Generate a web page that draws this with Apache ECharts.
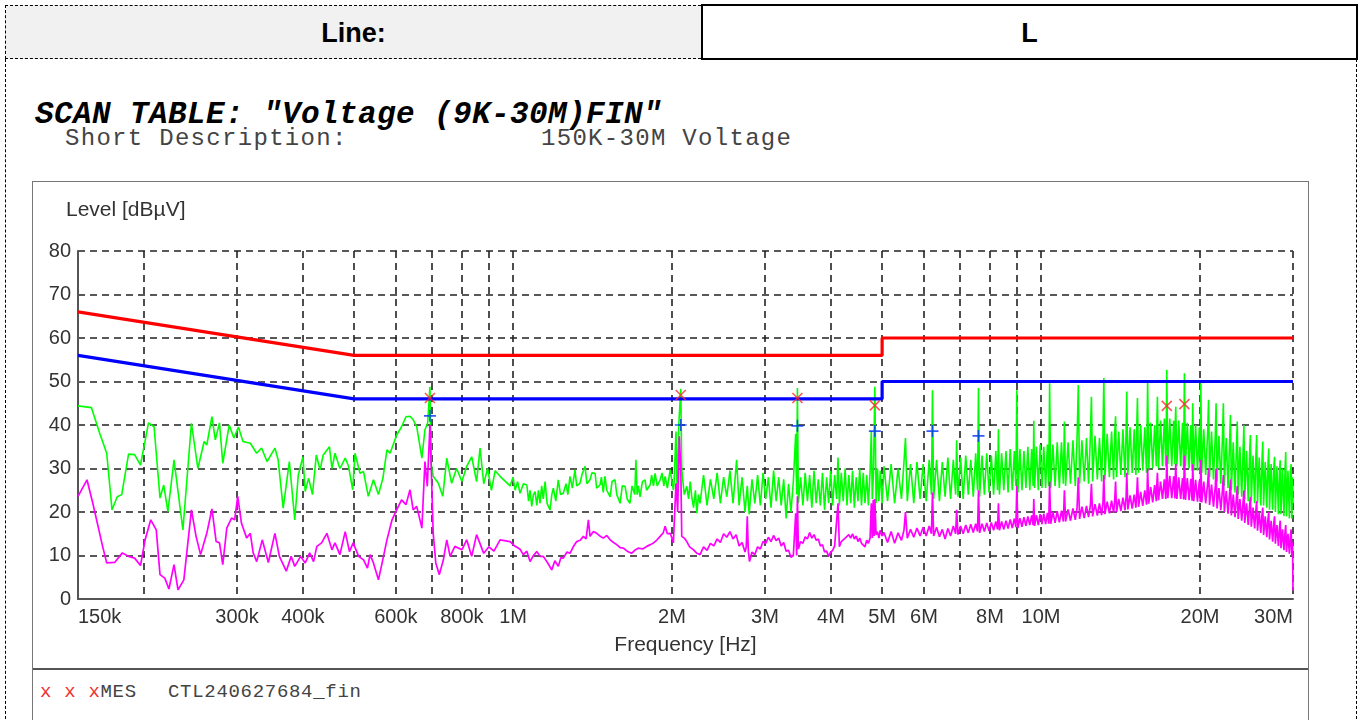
<!DOCTYPE html>
<html>
<head>
<meta charset="utf-8">
<title>SCAN TABLE</title>
<script src="https://cdn.jsdelivr.net/npm/echarts@6/dist/echarts.min.js"></script>
<style>
  body { margin: 0; width: 1362px; height: 720px; overflow: hidden; background: #fff; position: relative;
         font-family: "Liberation Sans", Arial, sans-serif; }
  .abs { position: absolute; }
  .head-left { left: 5px; top: 5px; width: 695px; height: 52px; background: #f1f1f1;
               border: 1px dashed #000; border-right: none; }
  .head-right { left: 701px; top: 4px; width: 653px; height: 52px; border: 2px solid #000; }
  .head-text { font-weight: bold; font-size: 27px; color: #000; text-align: center; line-height: 54px; }
  .side { top: 59px; height: 670px; border-left: 1px dashed #000; }
  .mono { font-family: "Liberation Mono", "Courier New", monospace; white-space: pre; }
  .title { left: 35px; top: 99px; font-size: 31px; line-height: 31px; font-weight: bold; font-style: italic;
           letter-spacing: 0.4px; color: #000; }
  .desc { top: 127px; font-size: 24px; line-height: 24px; letter-spacing: 1.3px; color: #444; }
  .box { left: 32px; top: 181px; width: 1275px; height: 560px; border: 1px solid #777; }
  .sep { left: 33px; top: 668px; width: 1275px; height: 2px; background: #555; }
  .legend { top: 683px; font-size: 19px; line-height: 19px; letter-spacing: 0.7px; color: #444; }
  #chart { left: 33px; top: 182px; width: 1274px; height: 486px; }
</style>
</head>
<body>
<div class="abs head-left head-text">Line:</div>
<div class="abs head-right head-text">L</div>
<div class="abs side" style="left:5px"></div>
<div class="abs side" style="left:1356px"></div>

<div class="abs mono title">SCAN TABLE: "Voltage (9K-30M)FIN"</div>
<div class="abs mono desc" style="left:65px">Short Description:</div>
<div class="abs mono desc" style="left:541px">150K-30M Voltage</div>

<div class="abs box"></div>
<div class="abs sep"></div>
<div class="abs mono legend" style="left:40px"><span style="color:#f03030">x x x</span>MES</div>
<div class="abs mono legend" style="left:168px">CTL240627684_fin</div>

<div id="chart" class="abs"></div>

<script>
// frequencies in kHz, levels in dBuV
const freqLabels = [150, 300, 400, 600, 800, 1000, 2000, 3000, 4000, 5000, 6000, 8000, 10000, 20000, 30000];
const gridFreqs = [200, 300, 400, 500, 600, 700, 800, 900, 1000, 2000, 3000, 4000, 5000, 6000, 7000, 8000, 9000, 10000, 20000, 30000];

const qpLimit = [[150, 66], [500, 56], [5000, 56], [5000, 60], [30000, 60]];
const avLimit = [[150, 56], [500, 46], [5000, 46], [5000, 50], [30000, 50]];

const qpFinal = [[696, 46.2], [2078, 46.9], [3456, 46.2], [4844, 44.5], [17300, 44.4], [18684, 44.8]];
const avFinal = [[696, 42.1], [2078, 40], [3456, 39.8], [4844, 38.6], [6228, 38.6], [7612, 37.5]];

// peak scan (green)
const peakTrace = [
  [150,44.4],[159,44.0],[165,38],[170,33.5],[174,20.5],[178,23.5],[181.5,24],[187,33.3],[192,33.2],[197,30.8],
  [204,40.5],[209,39.6],[214.5,23.2],[218,26.2],[222,20.1],[228,32],[237,15.9],[246,40.4],[253,30],[260,36.2],
  [263,35.4],[269,41.9],[273,36.6],[278,40.5],[282,31.2],[290,40],[296,37],[302,39.5],[308,36.2],[318,35.8],
  [327,33.5],[334,34.7],[342,31.6],[354,34.7],[359,32],[367,20.9],[377,31.6],[386,18.2],[392,28.5],[400,32.7],
  [404,24.7],[410,27.8],[417,24],[424,33.1],[431,29.7],[437,33.1],[449,35],[454,30],[460,33.5],[470,30],
  [481,32.4],[488,30.5],[497,25.1],[502,33.5],[513,28.9],[521,29.3],[532,23.6],[544,27.4],[556,24],[567,27.8],
  [577,34.3],[585,33.5],[602,37.7],[615,39.6],[627,41.9],[638,42],[647,41.2],[657,39.6],[672,32.4],[681,38.9],
  [689,40.4],[696,48.8],[700,31],[706,28.2],[722,26.6],[736,23.6],[749,32.4],[765,26.6],[782,30],[800,27],
  [817,30.5],[835,32.7],[853,27],[866,34.7],[880,26.5],[895,30],[910,25],[925,29.5],[945,28.2],
  [987,26],[1000,28],[1009,25],[1020,27],[1031,24.3],[1046,26.5],[1062,26.2],[1070,22.5],[1077,25],[1085,21.3],
  [1093,24],[1101,24.7],[1109,21.5],[1117,25],[1125,22],[1133,26],[1141,23],[1150,27],[1160,22],[1175,20.5],
  [1184,24],[1192,25.5],[1205,22.5],[1218,27.4],[1230,24],[1245,24.3],[1260,26.5],[1270,24],[1282,28.2],[1295,25.5],
  [1310,29.7],[1320,26],[1339,26.6],[1350,28.5],[1369,30.5],[1380,26.5],[1399,27.4],[1410,29],[1430,28.9],[1440,25.5],
  [1461,26.2],[1470,28],[1482,24.5],[1493,28.2],[1505,25],[1527,23.5],[1540,27],[1560,27.4],[1572,24],[1595,22],
  [1610,26],[1630,25.9],[1645,23],[1665,22],[1680,26],[1700,24],[1709,32],[1718,24],[1727,26],[1740,23.5],
  [1758,27],[1778,27.4],[1790,25],[1818,26.2],[1830,28.5],[1845,26],[1858,28.9],[1875,26],[1899,27.4],[1915,29],
  [1930,26],[1941,28.2],[1960,25.5],[1984,29.7],[2000,27],[2012,25],[2018,26.6],[2035,38.5],[2045,25],[2060,40],
  [2078,48.3],[2087,30],[2096,27.4],[2110,24],[2133,25.9],[2150,23],[2165,27],[2180,23.5],[2197,21],[2215,25],
  [2229,19.7],[2245,24],
  [2260,22],[2295,28.5],[2330,21.5],[2365,27.5],[2400,23],[2435,29],[2470,22],[2505,28],[2540,23.5],[2575,29.5],
  [2610,22],[2651,32],[2680,21.5],[2715,28],[2750,20],[2777,26],[2800,19.5],[2835,27.5],[2870,22],[2905,28.5],
  [2940,21.5],[2975,29],[3010,23],[3045,28],[3080,21],[3115,29.5],[3150,22.5],[3185,28],[3220,21.5],[3255,27.5],
  [3290,18.5],[3325,26.5],[3360,20],[3395,27],[3430,38],[3445,24],[3456,48.5],[3470,22],[3505,28],[3540,21.5],
  [3575,29],[3610,22.5],[3645,28.5],[3680,21],[3715,29.5],[3750,22],[3785,27.5],[3820,21.5],[3855,29],[3890,20.5],
  [3925,28],[3960,22],[3995,29.5],[4030,21.5],[4065,28.5],[4100,23],[4125,32.5],[4150,21.5],[4185,29],[4220,22.5],
  [4255,30],[4290,21.5],[4325,28.5],[4360,22],[4395,29.5],[4430,21],[4465,28],[4500,22.5],[4535,30],[4570,21.5],
  [4605,29],[4640,22],[4675,28.5],[4710,21.5],[4745,29.5],[4770,38.6],[4790,23],[4815,29],[4844,48.8],[4870,22],
  [4900,30],[4930,22.5],[4960,29.5],[5000,22],
  [5040,30.5],[5120,22.5],[5200,31],[5280,22],[5360,30],[5440,23],[5500,31.5],[5536,37],[5580,22.5],[5660,31],
  [5740,22],[5820,31.5],[5900,23],[5980,31],[6060,22.5],[6140,32],[6200,24],[6228,48],[6260,23],[6340,32],
  [6420,22.5],[6500,31.5],[6580,23.5],[6660,32.5],[6740,23],[6820,32],[6890,24],[6920,36.5],[6960,23.5],[7040,32.5],
  [7120,23],[7200,33],[7280,24],[7360,32],[7440,23.5],[7520,33.5],[7580,25],[7612,48.5],[7650,23.5],[7730,33],
  [7810,24],[7890,33.5],[7970,24.5],[8050,33],[8130,24],[8210,34],[8270,25],[8304,39],[8340,24],[8420,33.5],
  [8500,25],[8580,34],[8660,24.5],[8740,34.5],[8820,25],[8900,34],[8960,26],[8996,48],[9040,24.5],[9120,34.5],
  [9200,25],[9280,34],[9360,25.5],[9440,35],[9520,25],[9600,34.5],[9660,26],[9688,41],[9720,25.5],[9800,35],
  [9880,25],[9960,35.5],[10040,25.5],
  [10120,35],[10200,25.5],[10280,35.5],[10340,26],[10380,49.6],[10430,25.5],[10530,35.5],[10630,26],[10730,36],[10830,25.5],
  [10930,36],[11020,26.5],[11072,40.8],[11130,26],[11250,36],[11370,26.5],[11490,36.5],[11610,26],[11700,37],[11764,49.2],
  [11830,26.5],[11950,36.5],[12070,27],[12190,37],[12300,26.5],[12400,37.5],[12456,46.5],[12520,27],[12650,37.5],[12780,27.5],
  [12900,37],[13020,27],[13100,38],[13148,50.8],[13210,27.5],[13340,38],[13470,28],[13600,38.5],[13720,27.5],[13790,38.5],
  [13840,42],[13900,28],[14030,38.5],[14160,28.5],[14290,39],[14420,28],[14490,39],[14532,47.7],[14600,28.5],[14740,39.5],
  [14880,29],[15010,39],[15120,28.5],[15180,39.5],[15224,46.2],[15300,29],[15440,40],[15580,29.5],[15720,39.5],[15840,29],
  [15880,40],[15916,50],[15990,29.5],[16130,40.5],[16270,30],[16410,40],[16530,30.5],[16570,40.5],[16608,46.5],[16690,30],
  [16840,41],[16980,30.5],[17120,41.5],[17230,30.5],[17270,41],[17300,52.7],[17380,31],[17530,41.5],[17680,30.5],[17830,41],
  [17930,31],[17960,41],[17992,44.2],[18080,30.5],[18230,41],[18380,30.5],[18530,40.5],[18620,30],[18650,41],[18684,51.9],
  [18770,30.5],[18920,40.5],[19070,30],[19220,40],[19320,29.5],[19350,40],[19376,45],[19460,29.5],[19620,40],[19780,29.5],
  [19940,39.5],[20020,29],[20068,49.6],
  [20150,29],[20330,39],[20500,28.5],[20680,38.5],[20760,45.8],[20850,28],[21030,38.5],[21210,27.5],[21380,38],[21452,45],
  [21540,27],[21720,37.5],[21900,26.5],[22060,37.5],[22144,45],[22240,26],[22420,37],[22600,25.5],[22760,36.5],[22836,42.3],
  [22930,25],[23120,36],[23300,24.5],[23450,35.5],[23528,40.8],[23620,24],[23800,35],[23990,23.5],[24140,34.5],[24220,40],
  [24310,23],[24500,34],[24680,22.5],[24830,33.5],[24912,37.7],[25010,22.5],[25200,33],[25380,22],[25520,33],[25604,37.7],
  [25700,22],[25890,32.5],[26070,21.5],[26210,32],[26296,36.2],[26390,21.5],[26580,31.5],[26760,21],[26900,31],[26988,34.6],
  [27080,20.5],[27270,31],[27450,20.5],[27600,30.5],[27680,32.7],[27780,20],[27970,30.5],[28150,19.5],[28290,30],[28372,31.9],
  [28470,19.5],[28660,30],[28840,19],[28980,30],[29064,33.8],[29160,19],[29350,29.5],[29530,18.5],[29670,29.5],[29756,31],
  [29850,18.5],[29940,28],[30000,22]
];

// average scan (magenta)
const avgTrace = [
  [150,23.6],[156,27.4],[160,22],[167,12.1],[170,8.3],[176,8.4],[182,10.6],[187,9.8],[192,9.4],[197,7.7],
  [201,13.6],[206,18.2],[211,15.9],[214.5,5.6],[219,4.8],[223,2.3],[228,7.9],[232,2.1],[238,4.4],[246,20.5],
  [251,14.4],[256,10.2],[263,15.1],[269,20.7],[274,13.2],[278,12.9],[282,7.9],[287,16.3],[293,18.6],[297,18.2],
  [301,23.6],[306,17.4],[313,14],[318,15.1],[322,10.6],[327,8.6],[335,13.6],[344,8.4],[354,15.1],[361,9.8],
  [372,6.4],[380,9.8],[386,7.5],[396,9.8],[404,8.3],[412,10.6],[419,8.6],[425,12.1],[434,12.9],[444,15.1],
  [454,11.3],[460,12.9],[470,10.2],[481,15.5],[490,10.9],[498,12.9],[510,9.8],[521,9],[530,7.1],[536,10.2],
  [544,8.3],[556,4.4],[565,8.3],[577,13.6],[590,18.2],[602,20.5],[615,22.8],[627,21.7],[638,25.1],[647,20.5],
  [657,21.3],[672,16.3],[681,31.6],[688,25.9],[696,40],[706,15.1],[714,8.3],[725,5.6],[738,9],[749,13.6],
  [760,9.8],[776,12.1],[800,11.3],[817,13.6],[835,9.8],[853,14.8],[880,10.5],[900,12],[920,11],[945,13.6],
  [987,13.2],[1009,12.1],[1030,11.5],[1046,10.2],[1062,11],[1077,8.6],[1093,10],[1109,10.9],[1125,9.8],[1141,9.8],
  [1160,8.5],[1184,6.7],[1200,8.8],[1218,7.5],[1232,9.5],[1245,9.4],[1265,10.8],[1282,10.5],[1300,12],[1320,13.2],
  [1340,13.5],[1359,14.4],[1375,13.8],[1389,18.2],[1399,14.4],[1420,15.5],[1440,15.1],[1460,14.5],[1482,14],[1505,14.6],
  [1527,13.6],[1550,13],[1572,12.5],[1595,11.8],[1618,11.7],[1645,11],[1677,10.5],[1700,11.2],[1727,11.7],[1760,11.5],
  [1792,12.1],[1820,12.5],[1845,12.9],[1870,13.5],[1899,14.4],[1925,15.2],[1941,16.7],[1960,15],[1984,15.1],[2000,14],
  [2012,12.9],[2035,26.6],[2050,20],[2065,37.4],[2078,30],[2087,14.4],[2110,14],[2133,13.2],[2160,12],[2197,11.3],
  [2230,10.5],
  [2260,10.2],[2295,12],[2330,11.2],[2365,12.8],[2400,12.2],[2435,13.8],[2470,13],[2505,15],[2540,14.2],[2575,15.5],
  [2610,13.8],[2645,14.8],[2680,12.2],[2715,13],[2750,10.8],[2765,12],[2777,19],[2790,11],[2805,8.6],[2835,10.8],
  [2870,10.2],[2905,12],[2940,11.5],[2975,13.2],[3010,12.8],[3045,14.2],[3080,13.2],[3115,14.6],[3150,13.4],[3185,14],
  [3220,12.2],[3255,13],[3290,11],[3325,11.2],[3360,9.6],[3395,10],[3430,19.7],[3445,10],[3456,23.6],[3470,11.5],
  [3505,13.2],[3540,12.8],[3575,14.3],[3610,13.8],[3645,15.3],[3680,14],[3715,14.8],[3750,13.5],[3785,13.8],[3820,12.2],
  [3855,12.5],[3890,10.8],[3925,11],[3960,9.8],[3995,10.8],[4030,11.2],[4065,12.2],[4100,11.8],[4125,22],[4150,12],
  [4185,13.2],[4220,12.8],[4255,14],[4290,13.6],[4325,14.8],[4360,14],[4395,15],[4430,13.8],[4465,14.5],[4500,13.2],
  [4535,14],[4570,12.8],[4605,13.2],[4640,12],[4675,13.5],[4710,12.8],[4745,14],[4770,22],[4790,14],[4810,22.8],
  [4830,14.5],[4844,23],[4870,14.8],[4900,15.5],[4930,14],[4960,15.8],[5000,14.5],
  [5040,15.3],[5120,13],[5200,15.5],[5280,12.8],[5360,15.2],[5440,13.5],[5500,15.8],[5536,20],[5580,14],[5660,16],
  [5740,14.2],[5820,16.3],[5900,14.5],[5980,16.5],[6060,14.5],[6140,16.8],[6200,15],[6228,24.5],[6260,14.5],[6340,16.5],
  [6420,14.3],[6500,16],[6580,13.8],[6660,16.2],[6740,14.5],[6820,16.8],[6890,15],[6920,20.5],[6960,14.8],[7040,16.8],
  [7120,15],[7200,17],[7280,15.2],[7360,17.2],[7440,15.3],[7520,17.3],[7580,15.5],[7612,25],[7650,15.2],[7730,17.3],
  [7810,15.5],[7890,17.5],[7970,15.6],[8050,17.6],[8130,15.8],[8210,17.8],[8270,16],[8304,22],[8340,15.8],[8420,17.8],
  [8500,16],[8580,18],[8660,16.2],[8740,18.3],[8820,16.3],[8900,18.5],[8960,16.5],[8996,26],[9040,16.3],[9120,18.6],
  [9200,16.6],[9280,18.8],[9360,16.8],[9440,19],[9520,17],[9600,19.2],[9660,17],[9688,23],[9720,16.8],[9800,19.3],
  [9880,17],[9960,19.5],[10040,17.2],
  [10120,19.6],[10200,17.2],[10280,19.8],[10340,17.3],[10380,27],[10430,17.3],[10530,20],[10630,17.5],[10730,20.2],[10830,17.6],
  [10930,20.3],[11020,17.8],[11072,25],[11130,17.8],[11250,20.6],[11370,18],[11490,20.8],[11610,18.2],[11700,21],[11764,28],
  [11830,18.4],[11950,21.2],[12070,18.6],[12190,21.4],[12300,18.8],[12400,21.5],[12456,26.5],[12520,19],[12650,21.8],[12780,19.2],
  [12900,22],[13020,19.3],[13100,22.2],[13148,28.5],[13210,19.5],[13340,22.4],[13470,19.7],[13600,22.6],[13720,19.8],[13790,22.8],
  [13840,27],[13900,20],[14030,23],[14160,20.2],[14290,23.3],[14420,20.4],[14490,23.5],[14532,29],[14600,20.6],[14740,23.8],
  [14880,20.8],[15010,24],[15120,21],[15180,24.3],[15224,28],[15300,21.2],[15440,24.6],[15580,21.4],[15720,25],[15840,21.7],
  [15880,25.3],[15916,30],[15990,21.9],[16130,25.7],[16270,22.2],[16410,26.2],[16530,22.5],[16570,26.5],[16608,29],[16690,22.7],
  [16840,27],[16980,23],[17120,27.5],[17230,23],[17270,28],[17300,33],[17380,23.2],[17530,28.3],[17680,23.2],[17830,28.2],
  [17930,23.1],[17960,28.2],[17992,31],[18080,23],[18230,28],[18380,23],[18530,27.8],[18620,22.9],[18650,28],[18684,33],
  [18770,22.8],[18920,27.8],[19070,22.7],[19220,27.6],[19320,22.6],[19350,27.6],[19376,31],[19460,22.5],[19620,27.4],[19780,22.4],
  [19940,27.2],[20020,22.3],[20068,32],
  [20150,22.2],[20330,27],[20500,22],[20680,26.7],[20760,30],[20850,21.6],[21030,26.3],[21210,21.2],[21380,26],[21452,30],
  [21540,20.8],[21720,25.5],[21900,20.4],[22060,25.2],[22144,28.5],[22240,20],[22420,24.8],[22600,19.6],[22760,24.4],[22836,27.5],
  [22930,19.2],[23120,24],[23300,18.8],[23450,23.5],[23528,26],[23620,18.4],[23800,23],[23990,18],[24140,22.5],[24220,25],
  [24310,17.5],[24500,22],[24680,17],[24830,21.5],[24912,23.5],[25010,16.6],[25200,21],[25380,16.2],[25520,20.5],[25604,22.5],
  [25700,15.7],[25890,20],[26070,15.2],[26210,19.5],[26296,21],[26390,14.7],[26580,19],[26760,14.2],[26900,18.5],[26988,20],
  [27080,13.7],[27270,18],[27450,13.2],[27600,17.5],[27680,19],[27780,12.7],[27970,17],[28150,12.2],[28290,16.5],[28372,18],
  [28470,11.7],[28660,16],[28840,11.2],[28980,15.5],[29064,17],[29160,10.8],[29350,15],[29530,10.4],[29670,14.5],[29756,16],
  [29850,10],[29940,13],[30000,1.9]
];

const chart = echarts.init(document.getElementById('chart'), null, { renderer: 'canvas' });

const labelFont = '"Liberation Sans", Arial, sans-serif';
const fmtFreq = v => v >= 1000 ? (v / 1000) + 'M' : v + 'k';

chart.setOption({
  animation: false,
  grid: { left: 45, top: 69, width: 1215, height: 348 },
  graphic: [
    { type: 'text', left: 33, top: 18,
      style: { text: 'Level [dBµV]', font: '21px ' + labelFont, fill: '#333' } }
  ],
  xAxis: {
    type: 'log',
    logBase: 10,
    min: 150,
    max: 30000,
    name: 'Frequency [Hz]',
    nameLocation: 'middle',
    nameGap: 36,
    nameTextStyle: { fontSize: 21, color: '#333', fontFamily: labelFont },
    axisLine: { show: true, lineStyle: { color: '#555', width: 2 } },
    axisTick: { show: false, customValues: gridFreqs },
    axisLabel: {
      customValues: freqLabels,
      formatter: fmtFreq,
      fontSize: 20, color: '#333', fontFamily: labelFont,
      margin: 8,
      alignMinLabel: 'left',
      alignMaxLabel: 'right'
    },
    splitLine: { show: true, lineStyle: { color: '#222', width: 1.6, type: [7, 5] } }
  },
  yAxis: {
    type: 'value',
    min: 0,
    max: 80,
    interval: 10,
    axisLine: { show: true, lineStyle: { color: '#555', width: 2 } },
    axisTick: { show: false },
    axisLabel: { fontSize: 20, color: '#333', fontFamily: labelFont, margin: 7 },
    splitLine: { show: true, lineStyle: { color: '#222', width: 1.6, type: [7, 5] } }
  },
  series: [
    { name: 'Peak', type: 'line', data: peakTrace, showSymbol: false, silent: true,
      lineStyle: { color: '#00ff00', width: 1.6 }, z: 2 },
    { name: 'Average', type: 'line', data: avgTrace, showSymbol: false, silent: true,
      lineStyle: { color: '#ff00ff', width: 1.7 }, z: 3 },
    { name: 'QP Limit', type: 'line', data: qpLimit, showSymbol: false, silent: true,
      lineStyle: { color: '#ff0000', width: 3.2 }, z: 4 },
    { name: 'AV Limit', type: 'line', data: avLimit, showSymbol: false, silent: true,
      lineStyle: { color: '#0000ff', width: 3.2 }, z: 4 },
    { name: 'QP Final', type: 'scatter', data: qpFinal, silent: true,
      symbol: 'path://M0,0L10,10M10,0L0,10', symbolSize: 10,
      itemStyle: { color: 'none', borderColor: '#ff2a2a', borderWidth: 1.6 }, z: 5 },
    { name: 'AV Final', type: 'scatter', data: avFinal, silent: true,
      symbol: 'path://M5,0L5,10M0,5L10,5', symbolSize: 12,
      itemStyle: { color: 'none', borderColor: '#0030ff', borderWidth: 1.6 }, z: 5 }
  ]
});
</script>
</body>
</html>
